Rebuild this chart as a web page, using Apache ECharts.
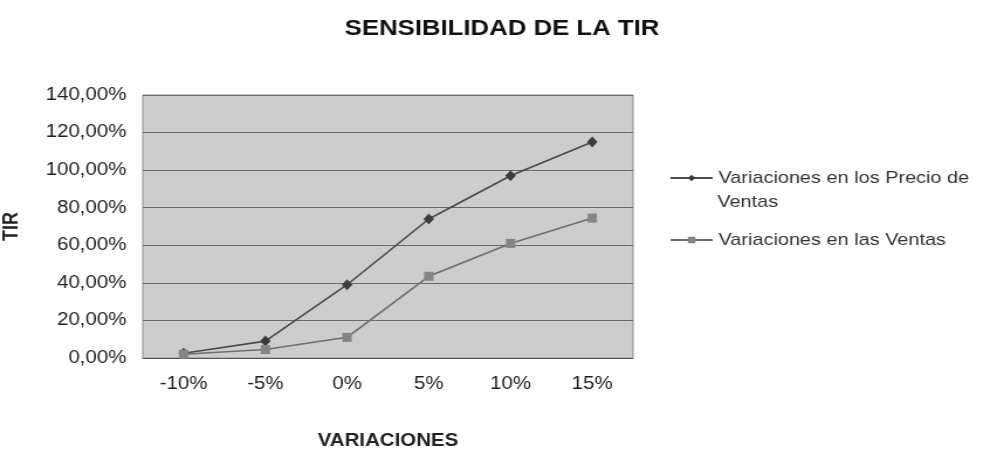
<!DOCTYPE html>
<html>
<head>
<meta charset="utf-8">
<script src="https://cdn.jsdelivr.net/npm/echarts@6/dist/echarts.min.js"></script>
<style>
  html, body { margin: 0; padding: 0; background: #fff; width: 983px; height: 455px; overflow: hidden; }
  #frame { position: relative; width: 983px; height: 455px; overflow: hidden; }
  /* the chart is laid out narrower and widened to the frame, giving the wide lettering */
  #chart { position: absolute; left: 0; top: 0; width: 840px; height: 455px;
           transform: scaleX(1.1702); transform-origin: 0 0; }
</style>
</head>
<body>
<div id="frame"><div id="chart"></div></div>
<script>
// Variation scenarios on the x axis
const categories = ['-10%', '-5%', '0%', '5%', '10%', '15%'];
// TIR (%) when sale prices vary
const precioVentas = [2.5, 9, 39, 74, 97, 115];
// TIR (%) when sales volume varies
const ventas = [2, 4.5, 11, 43.5, 61, 74.5];
// Y axis ticks
const yTicks = [0, 20, 40, 60, 80, 100, 120, 140];

const SERIE_PRECIO = 'Variaciones en los Precio de Ventas';
const SERIE_VENTAS = 'Variaciones en las Ventas';

const FONT = '"Liberation Sans", Arial, sans-serif';

const chart = echarts.init(document.getElementById('chart'), null, { renderer: 'canvas', width: 840, height: 455 });

chart.setOption({
  backgroundColor: '#ffffff',
  animation: false,
  title: {
    text: 'SENSIBILIDAD DE LA TIR',
    left: 424,
    textAlign: 'center',
    top: 13,
    textStyle: { fontFamily: FONT, fontSize: 22, fontWeight: 'bold', color: '#111' }
  },
  legend: {
    orient: 'vertical',
    left: 567,
    top: 161,
    itemWidth: 36,
    itemHeight: 8,
    itemGap: 38,
    textStyle: { fontFamily: FONT, fontSize: 17, color: '#333', lineHeight: 24 },
    // the long name is broken over two lines; its second line is drawn below
    formatter: name => name === SERIE_PRECIO ? 'Variaciones en los Precio de' : name,
    data: [{ name: SERIE_PRECIO }, { name: SERIE_VENTAS }]
  },
  graphic: [{
    type: 'text',
    left: 613,
    top: 194,
    style: { text: 'Ventas', font: '17px ' + FONT, fill: '#333' }
  }],
  grid: {
    left: 121, right: 299, top: 95, bottom: 90,
    show: true,
    backgroundColor: '#cdcdcd',
    borderColor: '#8c8c8c',
    borderWidth: 1
  },
  xAxis: {
    type: 'category',
    data: categories,
    boundaryGap: true,
    name: 'VARIACIONES',
    nameLocation: 'middle',
    nameGap: 74,
    nameTextStyle: { fontFamily: FONT, fontSize: 17.5, fontWeight: 'bold', color: '#222' },
    axisLine: { lineStyle: { color: '#555' } },
    axisTick: { show: false },
    axisLabel: { fontFamily: FONT, fontSize: 17.5, color: '#222', margin: 17 }
  },
  yAxis: {
    type: 'value',
    min: yTicks[0],
    max: yTicks[yTicks.length - 1],
    interval: 20,
    name: 'TIR',
    nameLocation: 'middle',
    nameGap: 103,
    nameRotate: 90,
    nameTextStyle: { fontFamily: FONT, fontSize: 18, fontWeight: 'bold', color: '#222' },
    axisLine: { show: false },
    axisTick: { show: false },
    splitLine: { lineStyle: { color: '#6a6a6a', width: 1 } },
    axisLabel: {
      fontFamily: FONT, fontSize: 17.5, color: '#222', margin: 14,
      formatter: v => v.toFixed(2).replace('.', ',') + '%'
    }
  },
  series: [
    {
      name: SERIE_PRECIO,
      type: 'line',
      data: precioVentas,
      symbol: 'diamond',
      symbolSize: [9, 11],
      lineStyle: { color: '#4a4a4a', width: 1.6 },
      itemStyle: { color: '#3c3c3c' }
    },
    {
      name: SERIE_VENTAS,
      type: 'line',
      data: ventas,
      symbol: 'rect',
      symbolSize: [8, 9],
      lineStyle: { color: '#6e6e6e', width: 1.6 },
      itemStyle: { color: '#858585' }
    }
  ]
});
</script>
</body>
</html>
